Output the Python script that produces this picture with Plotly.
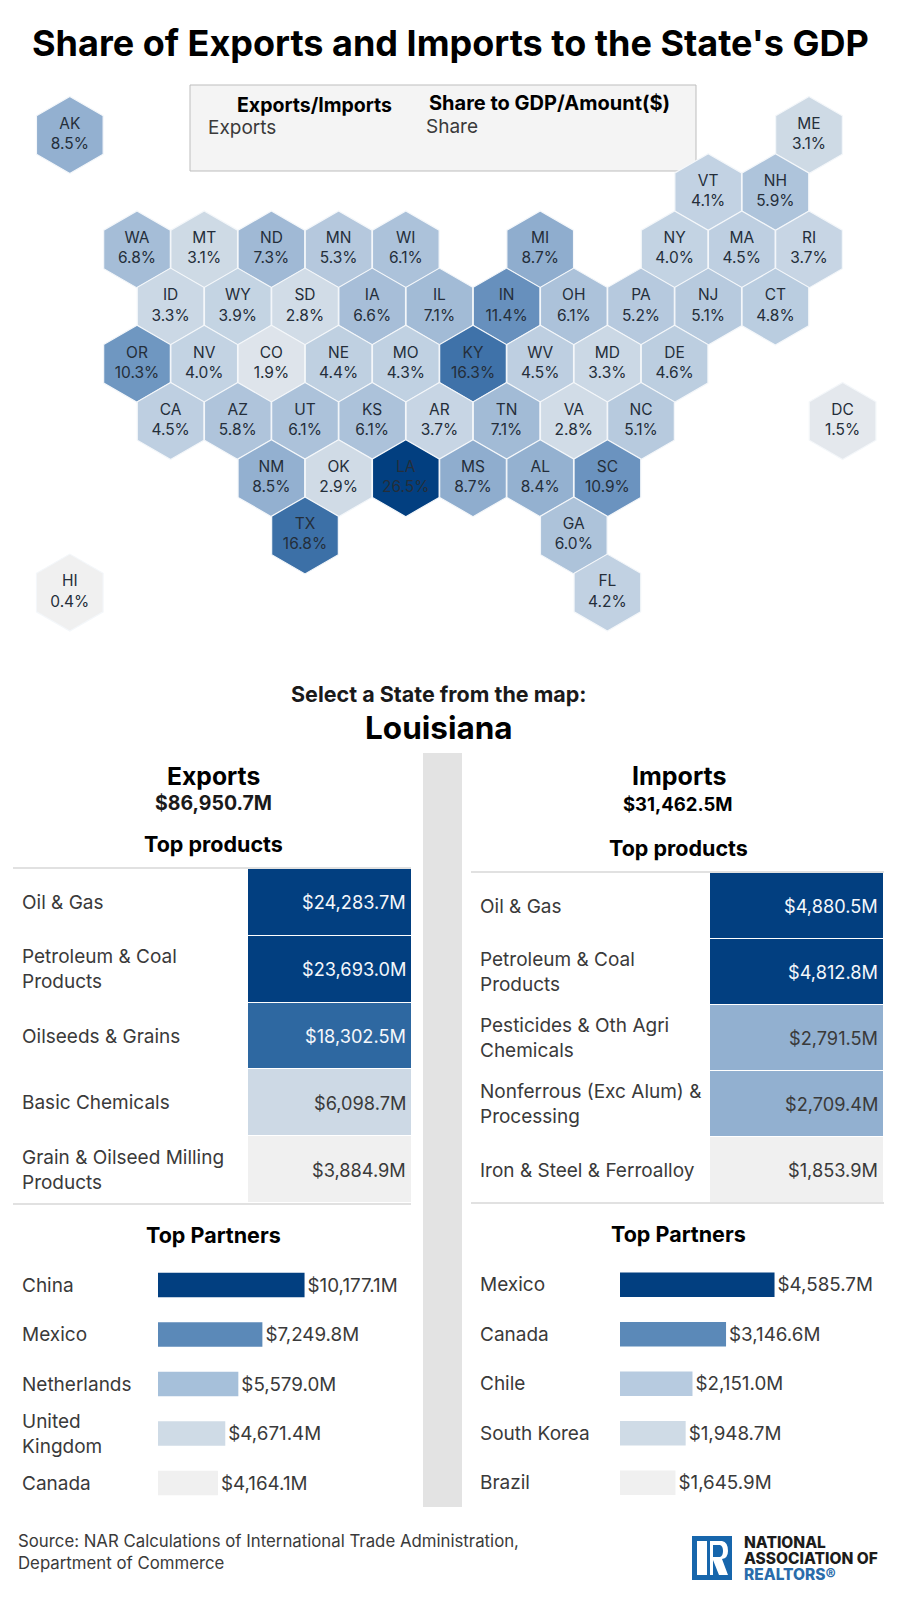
import plotly.graph_objects as go

# ---------- data ----------
states = ["AK","ME","VT","NH","WA","MT","ND","MN","WI","MI","NY","MA","RI",
          "ID","WY","SD","IA","IL","IN","OH","PA","NJ","CT",
          "OR","NV","CO","NE","MO","KY","WV","MD","DE",
          "CA","AZ","UT","KS","AR","TN","VA","NC","DC",
          "NM","OK","LA","MS","AL","SC","TX","GA","HI","FL"]
share = [8.5,3.1,4.1,5.9,6.8,3.1,7.3,5.3,6.1,8.7,4.0,4.5,3.7,
         3.3,3.9,2.8,6.6,7.1,11.4,6.1,5.2,5.1,4.8,
         10.3,4.0,1.9,4.4,4.3,16.3,4.5,3.3,4.6,
         4.5,5.8,6.1,6.1,3.7,7.1,2.8,5.1,1.5,
         8.5,2.9,26.5,8.7,8.4,10.9,16.8,6.0,0.4,4.2]
grid_col = [-2,20,17,19,0,2,4,6,8,12,16,18,20,
            1,3,5,7,9,11,13,15,17,19,
            0,2,4,6,8,10,12,14,16,
            1,3,5,7,9,11,13,15,21,
            4,6,8,10,12,14,5,13,-2,14]
grid_row = [0,0,1,1,2,2,2,2,2,2,2,2,2,
            3,3,3,3,3,3,3,3,3,3,
            4,4,4,4,4,4,4,4,4,
            5,5,5,5,5,5,5,5,5,
            6,6,6,6,6,6,7,7,8,8]

exp_products = ["Oil & Gas","Petroleum & Coal<br>Products","Oilseeds & Grains",
                "Basic Chemicals","Grain & Oilseed Milling<br>Products"]
exp_product_vals = [24283.7,23693.0,18302.5,6098.7,3884.9]
imp_products = ["Oil & Gas","Petroleum & Coal<br>Products","Pesticides & Oth Agri<br>Chemicals",
                "Nonferrous (Exc Alum) &<br>Processing","Iron & Steel & Ferroalloy"]
imp_product_vals = [4880.5,4812.8,2791.5,2709.4,1853.9]
exp_partners = ["China","Mexico","Netherlands","United<br>Kingdom","Canada"]
exp_partner_vals = [10177.1,7249.8,5579.0,4671.4,4164.1]
imp_partners = ["Mexico","Canada","Chile","South Korea","Brazil"]
imp_partner_vals = [4585.7,3146.6,2151.0,1948.7,1645.9]

# ---------- style ----------
W, H = 898, 1600
FONT = "Inter"
DARK = "#3a3a3a"
BLACK = "#000000"
NAVY = "#023f80"
MAP_STOPS = [(0.4,"#f0f0f0"),(1.5,"#e4e8ed"),(2.9,"#d0dbe6"),(4.0,"#c3d3e3"),(6.1,"#acc2da"),
             (8.5,"#93b0d0"),(10.3,"#6f97c1"),(11.4,"#6790bd"),(16.3,"#3f72a9"),(26.5,NAVY)]
lo, hi = MAP_STOPS[0][0], MAP_STOPS[-1][0]
map_scale = [[(v-lo)/(hi-lo), c] for v, c in MAP_STOPS]
exp_cell_scale = [[0,"#f0f0f0"],[0.1085,"#cdd9e5"],[0.707,"#2e68a1"],[0.97,NAVY],[1,NAVY]]
imp_cell_scale = [[0,"#f0f0f0"],[0.283,"#92b0d0"],[0.31,"#92b0d0"],[0.977,NAVY],[1,NAVY]]
exp_bar_colors = [NAVY,"#5b89b8","#a6c0da","#cfdbe6","#f0f0f0"]
imp_bar_colors = [NAVY,"#5b89b8","#b7cbe0","#cfdbe6","#f0f0f0"]

def px(x): return x / W
def py(y): return 1 - y / H
def dx(a, b): return [a / W, b / W]
def dy(top, bot): return [1 - bot / H, 1 - top / H]

annotations, shapes = [], []
def txt(x, y, s, size, color=BLACK, anchor="center", weight=400, align=None):
    annotations.append(dict(xref="paper", yref="paper", x=px(x), y=py(y), text=s, showarrow=False,
                            xanchor=anchor, yanchor="middle", align=align or anchor,
                            font=dict(family=FONT, size=size, color=color, weight=weight)))
def rect(x0, y0, x1, y1, fill, line=None, layer="below", lw=1):
    shapes.append(dict(type="rect", xref="paper", yref="paper", x0=px(x0), x1=px(x1), y0=py(y0), y1=py(y1),
                       fillcolor=fill, line=dict(color=line or fill, width=lw if line else 0), layer=layer))
def rule(x0, x1, y):
    shapes.append(dict(type="line", xref="paper", yref="paper", x0=px(x0), x1=px(x1), y0=py(y), y1=py(y),
                       line=dict(color="#c4c4c4", width=1.2), layer="above"))

fig = go.Figure()
hidden = dict(visible=False, showgrid=False, zeroline=False, fixedrange=True)

# ---------- hex map ----------
col_px, row_px, x0_px, y0_px = 33.6, 57.2, 137, 135
fig.add_trace(go.Scatter(
    x=grid_col, y=grid_row, mode="markers+text",
    text=[f"{s}<br>{v:.1f}%" for s, v in zip(states, share)],
    textposition="middle center",
    textfont=dict(family=FONT, size=15.5, color="#242e3a"),
    marker=dict(symbol="hexagon", size=77, color=share, colorscale=map_scale, cmin=lo, cmax=hi,
                line=dict(color="#f4f7fa", width=1.2)),
    hoverinfo="text", cliponaxis=False, showlegend=False, xaxis="x", yaxis="y"))
layout_axes = dict(
    xaxis=dict(hidden, domain=[0, 1], range=[(0-x0_px)/col_px, (W-x0_px)/col_px]),
    yaxis=dict(hidden, domain=dy(80, 640), range=[(640-y0_px)/row_px, (80-y0_px)/row_px]),
)

# ---------- product cells ----------
def cells(names, vals, scale, x_lab, x0, x1, top, bot, n):
    xa, ya = f"x{n}", f"y{n}"
    fig.add_trace(go.Heatmap(x=["Value"], y=names, z=[[v] for v in vals], colorscale=scale,
                             showscale=False, ygap=1, hoverinfo="skip", xaxis=xa, yaxis=ya))
    layout_axes[f"xaxis{n}"] = dict(hidden, domain=dx(x0, x1), anchor=ya)
    layout_axes[f"yaxis{n}"] = dict(hidden, domain=dy(top, bot), anchor=xa, autorange="reversed",
                                    type="category", categoryorder="array", categoryarray=names)
    vmax, vmin = max(vals), min(vals)
    for i, (nm, v) in enumerate(zip(names, vals)):
        annotations.append(dict(xref="paper", yref=ya, x=px(x_lab), y=nm, text=nm, showarrow=False,
                                xanchor="left", align="left",
                                font=dict(family=FONT, size=19, color=DARK)))
        col = "#f4f7fb" if (v-vmin)/(vmax-vmin) > 0.5 else DARK
        annotations.append(dict(xref="paper", yref=ya, x=px(x1-3), y=nm, text=f"${v:,.1f}M", showarrow=False,
                                xanchor="right", font=dict(family=FONT, size=18.2, color=col)))

cells(exp_products, exp_product_vals, exp_cell_scale, 20, 248, 411, 869, 1203, 2)
cells(imp_products, imp_product_vals, imp_cell_scale, 478, 710, 883, 873, 1203, 3)

# ---------- partner bars ----------
def bars(names, vals, colors, x_lab, x0, x1, xmax, top, bot, n):
    xa, ya = f"x{n}", f"y{n}"
    fig.add_trace(go.Bar(x=vals, y=names, orientation="h", marker=dict(color=colors, line=dict(width=0)),
                         text=[f"${v:,.1f}M" for v in vals], textposition="outside", cliponaxis=False,
                         constraintext="none", textangle=0,
                         textfont=dict(family=FONT, size=18.8, color=DARK),
                         hoverinfo="skip", showlegend=False, xaxis=xa, yaxis=ya))
    layout_axes[f"xaxis{n}"] = dict(hidden, domain=dx(x0, x1), range=[0, xmax], anchor=ya)
    layout_axes[f"yaxis{n}"] = dict(hidden, domain=dy(top, bot), anchor=xa, autorange="reversed",
                                    type="category", categoryorder="array", categoryarray=names)
    for nm in names:
        annotations.append(dict(xref="paper", yref=ya, x=px(x_lab), y=nm, text=nm, showarrow=False,
                                xanchor="left", align="left",
                                font=dict(family=FONT, size=19, color=DARK)))

bars(exp_partners, exp_partner_vals, exp_bar_colors, 20, 158, 411, 17570, 1260.25, 1507.75, 4)
bars(imp_partners, imp_partner_vals, imp_bar_colors, 478, 620, 884, 7834, 1260, 1507.5, 5)

# ---------- panels and text ----------
rect(190, 85, 696, 171, "#f4f4f4", line="#bdbdbd")
rect(423, 753, 462, 1507, "#e3e3e3")
rule(13, 411, 868); rule(13, 411, 1204); rule(471, 884, 872); rule(471, 884, 1203)

txt(451, 43, "Share of Exports and Imports to the State's GDP", 36, weight=700)
txt(314, 105, "Exports/Imports", 19.5, weight=700)
txt(549, 103, "Share to GDP/Amount($)", 20, weight=700)
txt(206, 128, "Exports", 19, color=DARK, anchor="left")
txt(424, 127, "Share", 19, color=DARK, anchor="left")
txt(439, 694, "Select a State from the map:", 21.5, color="#1a1a1a", weight=700)
txt(439, 727, "Louisiana", 31.5, weight=700)
txt(213, 776, "Exports", 24.7, weight=700)
txt(213, 803, "$86,950.7M", 19.5, color="#1a1a1a", weight=700)
txt(213, 844, "Top products", 21.5, weight=700)
txt(679, 776, "Imports", 25, weight=700)
txt(678, 804, "$31,462.5M", 18.5, weight=700)
txt(678, 848, "Top products", 21.5, weight=700)
txt(213, 1235, "Top Partners", 21.5, weight=700)
txt(678, 1234, "Top Partners", 21.5, weight=700)
txt(16, 1552, "Source: NAR Calculations of International Trade Administration,<br>Department of Commerce",
    16.8, color=DARK, anchor="left")

# ---------- logo ----------
BLUE = "#1766ac"
rect(692, 1536, 732, 1580, BLUE, layer="above")
rect(697, 1541, 707, 1575, "#ffffff", layer="above")
def P(x, y): return f"{px(x):.5f},{py(y):.5f}"
shapes.append(dict(type="path", xref="paper", yref="paper", layer="above", fillcolor="#ffffff", line=dict(width=0),
                   path=f"M{P(710,1541)} L{P(722,1541)} Q{P(728,1542)} {P(728,1551)} Q{P(728,1558)} {P(722,1559)} "
                        f"L{P(728,1575)} L{P(719,1575)} L{P(713,1560)} L{P(713,1575)} L{P(710,1575)} Z"))
shapes.append(dict(type="path", xref="paper", yref="paper", layer="above", fillcolor=BLUE, line=dict(width=0),
                   path=f"M{P(713,1545)} L{P(720,1545)} Q{P(723,1546)} {P(723,1551)} Q{P(723,1556)} {P(720,1557)} L{P(713,1557)} Z"))
txt(742, 1542, "NATIONAL", 15.5, color="#1c1c1c", anchor="left", weight=800)
txt(742, 1558, "ASSOCIATION OF", 15.5, color="#1c1c1c", anchor="left", weight=800)
txt(742, 1574, "REALTORS®", 15.5, color="#2a6cab", anchor="left", weight=800)

fig.update_layout(width=W, height=H, margin=dict(l=0, r=0, t=0, b=0), paper_bgcolor="#ffffff",
                  plot_bgcolor="rgba(0,0,0,0)", bargap=0.51, showlegend=False,
                  annotations=annotations, shapes=shapes, **layout_axes)
fig.write_html("out.html", config={"displayModeBar": False},
               post_script="document.body.style.margin='0';")
